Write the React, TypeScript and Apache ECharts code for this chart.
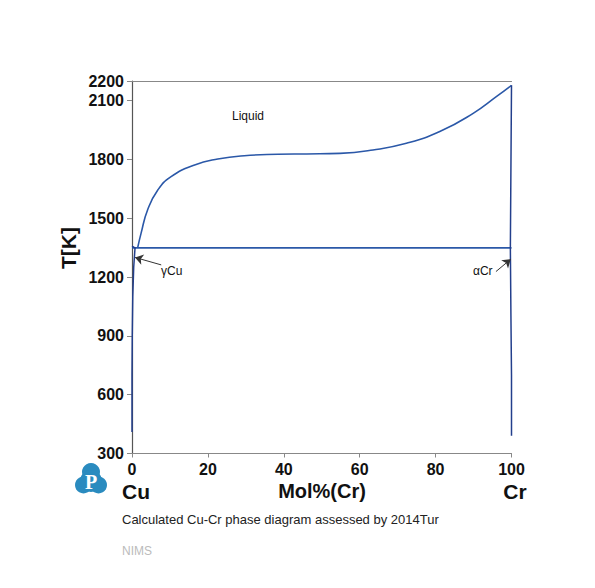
import React, { useEffect, useRef } from "react";
import * as echarts from "echarts";

const yTicks = [300, 600, 900, 1200, 1500, 1800, 2100, 2200];
const xTicks = [0, 20, 40, 60, 80, 100];

// Liquidus (x = mol% Cr, y = T[K])
const liquidus: [number, number][] = [
  [1.5, 1350], [2.4, 1424], [4.1, 1542], [6.8, 1644], [10.3, 1712], [16.5, 1772],
  [22.6, 1802], [29.6, 1819], [38.4, 1826], [46, 1828], [54.8, 1831], [63.5, 1848],
  [72.3, 1882], [81.1, 1942], [89.9, 2035], [96, 2120], [100, 2178],
];
const eutectic: [number, number][] = [[0, 1349], [100, 1349]];
const cuSide: [number, number][] = [
  [0, 1357], [0.8, 1349], [0.45, 1250], [0.2, 1100], [0.07, 900], [0, 700], [0, 410],
];
const crSide: [number, number][] = [
  [100, 2178], [99.7, 1349], [99.85, 1000], [100, 700], [100, 390],
];
const arrows: { from: [number, number]; to: [number, number] }[] = [
  { from: [7.7, 1262], to: [0.8, 1300] },
  { from: [95.9, 1228], to: [99.8, 1291] },
];

const FONT = "'Liberation Sans', Arial, sans-serif";

export default function App() {
  const ref = useRef<HTMLDivElement>(null);
  useEffect(() => {
    const chart = echarts.init(ref.current!, null, { renderer: "svg" });
    const lineColor = "#2b58a8";
    const darkLine = "#233f8c";
    chart.setOption({
      animation: false,
      backgroundColor: "#ffffff",
      grid: { left: 132, right: 83.5, top: 81, bottom: 134.5 },
      xAxis: [
        {
          type: "value", min: 0, max: 100, interval: 20,
          axisLine: { show: true, lineStyle: { color: "#888", width: 1.2 } },
          axisTick: { show: true, length: 4, lineStyle: { color: "#888" } },
          axisLabel: {
            margin: 8, fontFamily: FONT, fontWeight: "bold", fontSize: 16, color: "#111",
            formatter: (v: number) => String(v),
          },
          splitLine: { show: false },
        },
        {
          type: "value", min: 0, max: 100, position: "top",
          axisLine: { show: true, lineStyle: { color: "#888", width: 1.2 } },
          axisTick: { show: false }, axisLabel: { show: false }, splitLine: { show: false },
        },
      ],
      yAxis: {
        type: "value", min: 300, max: 2200,
        axisLine: { show: true, lineStyle: { color: "#555", width: 1.2 } },
        axisTick: { show: true, length: 5, customValues: yTicks, lineStyle: { color: "#888" } },
        axisLabel: {
          margin: 8, customValues: yTicks, fontFamily: FONT, fontWeight: "bold", fontSize: 16, color: "#111",
          formatter: (v: number) => String(v),
        },
        splitLine: { show: false },
      },
      series: [
        {
          type: "line", data: eutectic, showSymbol: false, lineStyle: { color: lineColor, width: 1.6 },
          markLine: {
            silent: true, symbol: ["none", "arrow"], symbolSize: 8,
            lineStyle: { color: "#333", width: 1, type: "solid" }, label: { show: false },
            data: arrows.map((a) => [{ coord: a.from }, { coord: a.to }]),
          },
        },
        {
          type: "line", data: liquidus, showSymbol: false, smooth: true,
          lineStyle: { color: lineColor, width: 1.6 },
        },
        { type: "line", data: cuSide, showSymbol: false, lineStyle: { color: darkLine, width: 1.5 } },
        { type: "line", data: crSide, showSymbol: false, lineStyle: { color: darkLine, width: 1.5 } },
      ],
      graphic: [
        { type: "text", left: 232, top: 110, style: { text: "Liquid", font: `12px ${FONT}`, fill: "#111" } },
        { type: "text", left: 161, top: 265, style: { text: "γCu", font: `12px ${FONT}`, fill: "#111" } },
        { type: "text", left: 473, top: 265, style: { text: "αCr", font: `12px ${FONT}`, fill: "#111" } },
        {
          type: "text", x: 68, y: 248, rotation: Math.PI / 2,
          style: { text: "T[K]", font: `bold 21px ${FONT}`, fill: "#111", align: "center", verticalAlign: "middle" },
        },
        { type: "text", x: 136, y: 491, style: { text: "Cu", font: `bold 21px ${FONT}`, fill: "#111", align: "center", verticalAlign: "middle" } },
        { type: "text", x: 322, y: 491, style: { text: "Mol%(Cr)", font: `bold 20px ${FONT}`, fill: "#111", align: "center", verticalAlign: "middle" } },
        { type: "text", x: 515, y: 491, style: { text: "Cr", font: `bold 21px ${FONT}`, fill: "#111", align: "center", verticalAlign: "middle" } },
        { type: "text", left: 122, top: 513, style: { text: "Calculated Cu-Cr phase diagram assessed by 2014Tur", font: `13px ${FONT}`, fill: "#222" } },
        { type: "text", left: 122, top: 545, style: { text: "NIMS", font: `12px ${FONT}`, fill: "#bbb" } },
        {
          type: "group", left: 75, top: 463,
          children: [
            { type: "circle", shape: { cx: 16, cy: 9, r: 9 }, style: { fill: "#2a8bbf" } },
            { type: "circle", shape: { cx: 8.5, cy: 22, r: 8.5 }, style: { fill: "#2a8bbf" } },
            { type: "circle", shape: { cx: 23.5, cy: 22, r: 8.5 }, style: { fill: "#2a8bbf" } },
            { type: "circle", shape: { cx: 16, cy: 18, r: 11 }, style: { fill: "#2a8bbf" } },
            {
              type: "text", x: 16, y: 19,
              style: { text: "P", font: "bold 20px 'Liberation Serif', 'DejaVu Serif', serif", fill: "#fff", align: "center", verticalAlign: "middle" },
            },
          ],
        },
      ],
    });
    return () => chart.dispose();
  }, []);
  return <div ref={ref} style={{ position: "fixed", left: 0, top: 0, width: 595, height: 588 }} />;
}
